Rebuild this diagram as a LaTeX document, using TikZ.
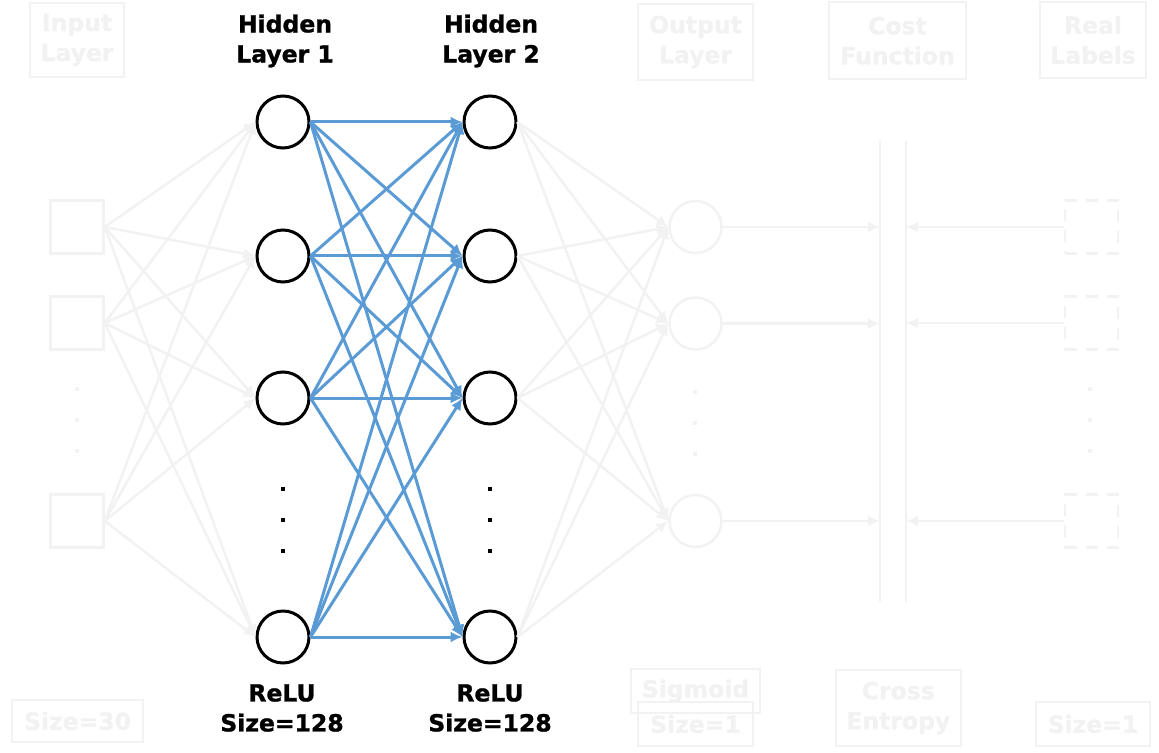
\documentclass[tikz,border=0pt]{standalone}
\usepackage{fontspec}
\setmainfont{DejaVu Sans}[BoldFeatures={FakeBold=1.2}]
\usepackage{xcolor}
\usepackage{tikz}
\usetikzlibrary{arrows.meta,positioning}
\definecolor{Ghost}{HTML}{F2F2F2}
\definecolor{Wire}{HTML}{5B9BD5}

\begin{document}
\begin{tikzpicture}[x=0.5pt,y=-0.5pt,font=\bfseries\fontsize{11.75}{15}\selectfont,
  >={Latex[length=6pt,width=5.5pt]},
  neuron/.style={draw,circle,line width=1.5pt,minimum size=26pt,inner sep=0pt},
  ghostneuron/.style={neuron,draw=Ghost,line width=1.25pt},
  ghostsq/.style={draw=Ghost,line width=1.25pt,minimum size=26.5pt,inner sep=0pt},
  labelsq/.style={ghostsq,dash pattern=on 6pt off 4.5pt},
  ghostline/.style={draw=Ghost,line width=1.25pt},
  wire/.style={draw=Wire,line width=1.5pt},
  vdot/.style={fill,rectangle,minimum size=2.2pt,inner sep=0pt},
  tag/.style={draw=Ghost,line width=0.9pt,text=Ghost,align=center,inner sep=0pt}]
  \useasboundingbox (0,0) rectangle (1159,753);

  % input layer (faded)
  \node[ghostsq] (in1) at (77,227) {};
  \node[ghostsq] (in2) at (77,323) {};
  \node[ghostsq] (in3) at (77,521) {};
  \foreach \y in {389,420,451} \node[vdot,fill=Ghost] at (77,\y) {};

  % hidden layers
  \node[neuron] (ha1) at (283,122) {};
  \node[neuron] (ha2) at (283,256) {};
  \node[neuron] (ha3) at (283,398) {};
  \node[neuron] (ha4) at (283,637) {};
  \node[neuron] (hb1) at (490,122) {};
  \node[neuron] (hb2) at (490,256) {};
  \node[neuron] (hb3) at (490,398) {};
  \node[neuron] (hb4) at (490,637) {};
  \foreach \y in {489,520,551} {
    \node[vdot] at (283,\y) {};
    \node[vdot] at (490,\y) {};
  }

  % output layer and real labels (faded)
  \node[ghostneuron] (out1) at (695.5,227) {};
  \node[ghostneuron] (out2) at (695.5,323.5) {};
  \node[ghostneuron] (out3) at (695.5,521) {};
  \foreach \y in {392,423,454} \node[vdot,fill=Ghost] at (695,\y) {};
  \node[labelsq] (lab1) at (1091.5,227) {};
  \node[labelsq] (lab2) at (1091.5,323) {};
  \node[labelsq] (lab3) at (1091.5,521) {};
  \foreach \y in {389,420,451} \node[vdot,fill=Ghost] at (1090,\y) {};

  % cost function bars
  \coordinate (costL) at (880,141);
  \coordinate (costLend) at (880,602);
  \coordinate (costR) at (906,141);
  \coordinate (costRend) at (906,602);
  \draw[ghostline] (costL) -- (costLend);
  \draw[ghostline] (costR) -- (costRend);

  % connections
  \foreach \i in {1,2,3}
    \foreach \j in {1,...,4}
      \draw[ghostline,->] (in\i.east) -- (ha\j.west);
  \foreach \i in {1,...,4}
    \foreach \j in {1,...,4}
      \draw[wire,->] (ha\i.east) -- (hb\j.west);
  \foreach \i in {1,...,4}
    \foreach \j in {1,2,3}
      \draw[ghostline,->] (hb\i.east) -- (out\j.west);
  \foreach \i in {1,2,3} {
    \draw[ghostline,->] (out\i.east) -- (out\i -| costL);
    \draw[ghostline,->] (lab\i.west) -- (lab\i -| costR);
  }

  % titles
  \node[tag,minimum width=47pt,minimum height=37pt] (tIn) at (77,40) {Input\\Layer};
  \node[align=center] (tH1) at (285,41) {Hidden\\Layer 1};
  \node[align=center] (tH2) at (491,41) {Hidden\\Layer 2};
  \node[tag,minimum width=57.5pt,minimum height=38pt] (tOut) at (695.5,42) {Output\\Layer};
  \node[tag,minimum width=68.5pt,minimum height=38.3pt] (tCost) at (897.5,40.7) {Cost\\Function};
  \node[tag,minimum width=52.75pt,minimum height=37.8pt] (tReal) at (1093,40) {Real\\Labels};

  % bottom notes
  \node[tag,minimum width=65.5pt,minimum height=21pt] (bIn) at (77.5,721) {Size=30};
  \node[align=center] (bH1) at (282,708) {ReLU\\Size=128};
  \node[align=center] (bH2) at (490,708) {ReLU\\Size=128};
  \node[tag,minimum width=64.5pt,minimum height=22pt] (bAct) at (695.5,691) {Sigmoid};
  \node[tag,minimum width=57.5pt,minimum height=21.75pt] (bOut) at (695.5,724) {Size=1};
  \node[tag,minimum width=62.7pt,minimum height=38pt] (bCost) at (898.3,708) {Cross\\Entropy};
  \node[tag,minimum width=57pt,minimum height=21.75pt] (bReal) at (1093,724) {Size=1};
\end{tikzpicture}
\end{document}
